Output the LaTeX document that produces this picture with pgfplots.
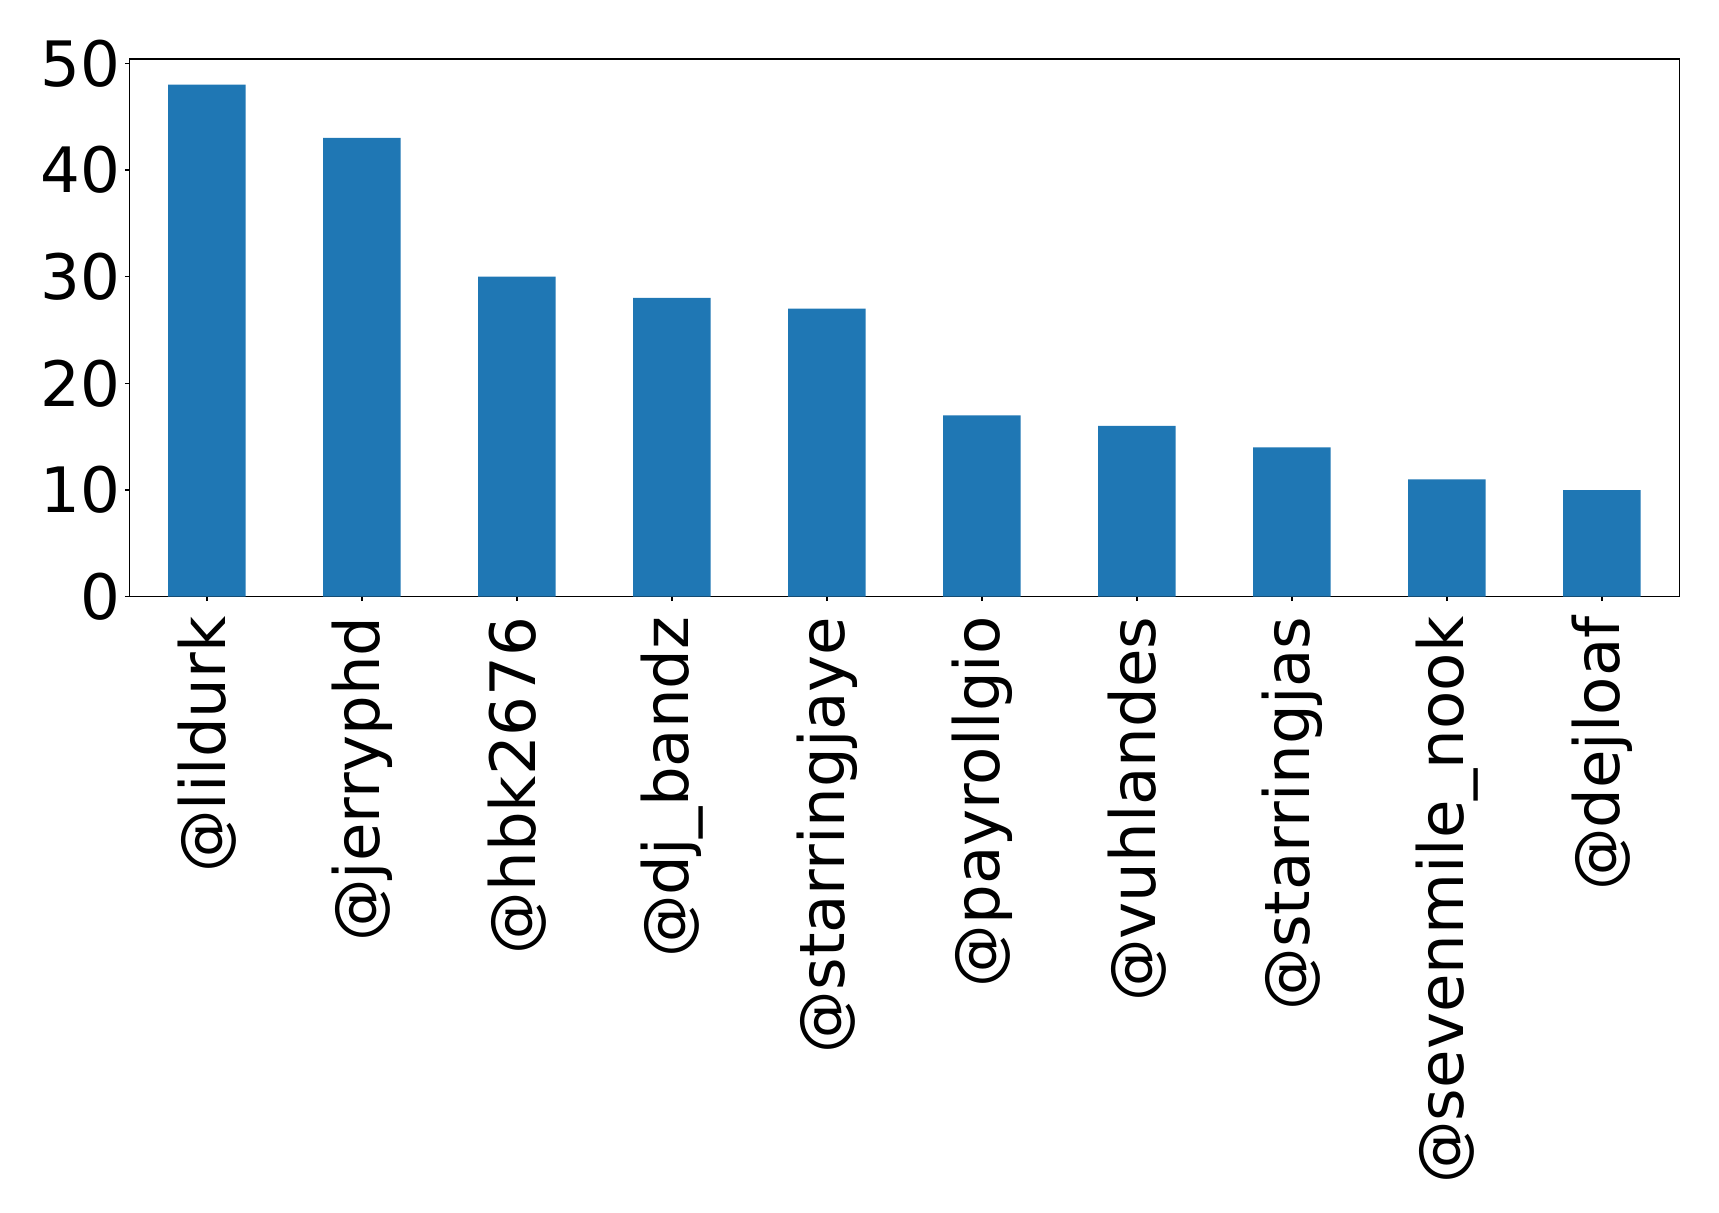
\documentclass[border=0pt]{standalone}
\usepackage{fontspec}
\setmainfont{DejaVu Sans}
\usepackage{pgfplots}
\pgfplotsset{compat=1.18}
\definecolor{barblue}{HTML}{1F77B4}
\begin{document}
\begin{tikzpicture}
\useasboundingbox (0,0) rectangle (859.5pt,606.5pt);
\begin{axis}[
  at={(64.65pt,308.15pt)}, anchor=south west,
  scale only axis, width=775pt, height=268.85pt,
  xmin=-0.5, xmax=9.5, ymin=0, ymax=50.4,
  axis line style={black, line width=0.75pt},
  tick style={black, line width=0.75pt},
  tick align=outside, major tick length=2.25pt,
  xtick pos=left, ytick pos=left,
  xtick={0,...,9},
  xticklabels={@lildurk,@jerryphd,@hbk2676,@dj\_bandz,@starringjaye,@payrollgio,@vuhlandes,@starringjas,@sevenmile\_nook,@dejloaf},
  ytick={0,10,...,50},
  /pgf/number format/assume math mode=true,
  ticklabel style={font=\fontsize{31.3}{37}\selectfont, inner sep=0pt},
  x tick label style={rotate=90, anchor=east},
  y tick label style={anchor=east},
  xticklabel shift=7.5pt,
  yticklabel shift=2.2pt,
  yticklabel={\pgfmathprintnumber{\tick}},
]
\addplot[ybar, bar width=0.5, fill=barblue, draw=none]
  coordinates {(0,48) (1,43) (2,30) (3,28) (4,27) (5,17) (6,16) (7,14) (8,11) (9,10)};
\end{axis}
\end{tikzpicture}
\end{document}
